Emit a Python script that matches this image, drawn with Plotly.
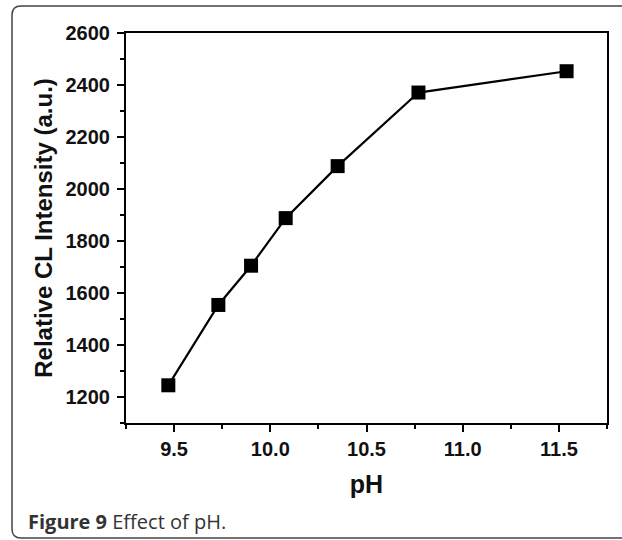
import plotly.graph_objects as go

# Data
ph_values = [9.47, 9.73, 9.90, 10.08, 10.35, 10.77, 11.54]
cl_intensity = [1245, 1554, 1705, 1888, 2088, 2371, 2453]

x_ticks = [9.5, 10.0, 10.5, 11.0, 11.5]
x_tick_labels = ["9.5", "10.0", "10.5", "11.0", "11.5"]
y_ticks = [1200, 1400, 1600, 1800, 2000, 2200, 2400, 2600]
y_tick_labels = [str(v) for v in y_ticks]

W, H = 622, 540
L, R, T, B = 126, 607, 33, 423  # plot area in pixels


def px_x(px):
    return (px - L) / (R - L)


def px_y(py):
    return (B - py) / (B - T)


fig = go.Figure()
fig.add_trace(go.Scatter(
    x=ph_values, y=cl_intensity, mode="lines+markers",
    line=dict(color="black", width=2.2),
    marker=dict(symbol="square", size=14, color="black"),
    showlegend=False,
))

# rounded frame around the figure (right side runs off the page)
fx0, fy0, fx1, fy1, r = 12, 6, 660, 538, 9
path = (
    f"M {px_x(fx0 + r)} {px_y(fy0)} L {px_x(fx1)} {px_y(fy0)} "
    f"L {px_x(fx1)} {px_y(fy1)} L {px_x(fx0 + r)} {px_y(fy1)} "
    f"Q {px_x(fx0)} {px_y(fy1)} {px_x(fx0)} {px_y(fy1 - r)} "
    f"L {px_x(fx0)} {px_y(fy0 + r)} "
    f"Q {px_x(fx0)} {px_y(fy0)} {px_x(fx0 + r)} {px_y(fy0)}"
)
fig.add_shape(type="path", path=path, xref="paper", yref="paper",
              line=dict(color="#444444", width=1.5), layer="below")

fig.add_annotation(
    text="<b>Figure 9</b> Effect of pH.",
    xref="paper", yref="paper", x=px_x(26), y=px_y(521),
    xanchor="left", yanchor="middle", showarrow=False,
    font=dict(family="Open Sans", size=20, color="#333333"),
)

axis_common = dict(
    showgrid=False, zeroline=False, showline=True, linecolor="black",
    linewidth=2, mirror=True, ticks="outside", ticklen=7, tickwidth=2,
    tickcolor="black",
    tickfont=dict(family="Liberation Sans", size=20, color="#111111", weight="bold"),
)

fig.update_xaxes(
    range=[9.25, 11.75], tickvals=x_ticks, ticktext=x_tick_labels,
    minor=dict(ticks="outside", ticklen=4, tickwidth=2, dtick=0.25,
               tick0=9.25, tickcolor="black"),
    ticklabelstandoff=0,
    title=dict(text="pH", standoff=16,
               font=dict(family="Liberation Sans", size=25, color="#111111", weight="bold")),
    **axis_common,
)
fig.update_yaxes(
    range=[1100, 2600], tickvals=y_ticks, ticktext=y_tick_labels,
    minor=dict(ticks="outside", ticklen=4, tickwidth=2, dtick=100,
               tick0=1100, tickcolor="black"),
    ticklabelstandoff=3,
    title=dict(text="Relative CL Intensity (a.u.)", standoff=6,
               font=dict(family="Liberation Sans", size=24, color="#111111", weight="bold")),
    **axis_common,
)

fig.update_layout(
    width=W, height=H,
    margin=dict(l=L, r=W - R, t=T, b=H - B, autoexpand=False),
    plot_bgcolor="white", paper_bgcolor="white",
)

fig.write_html("out.html")
